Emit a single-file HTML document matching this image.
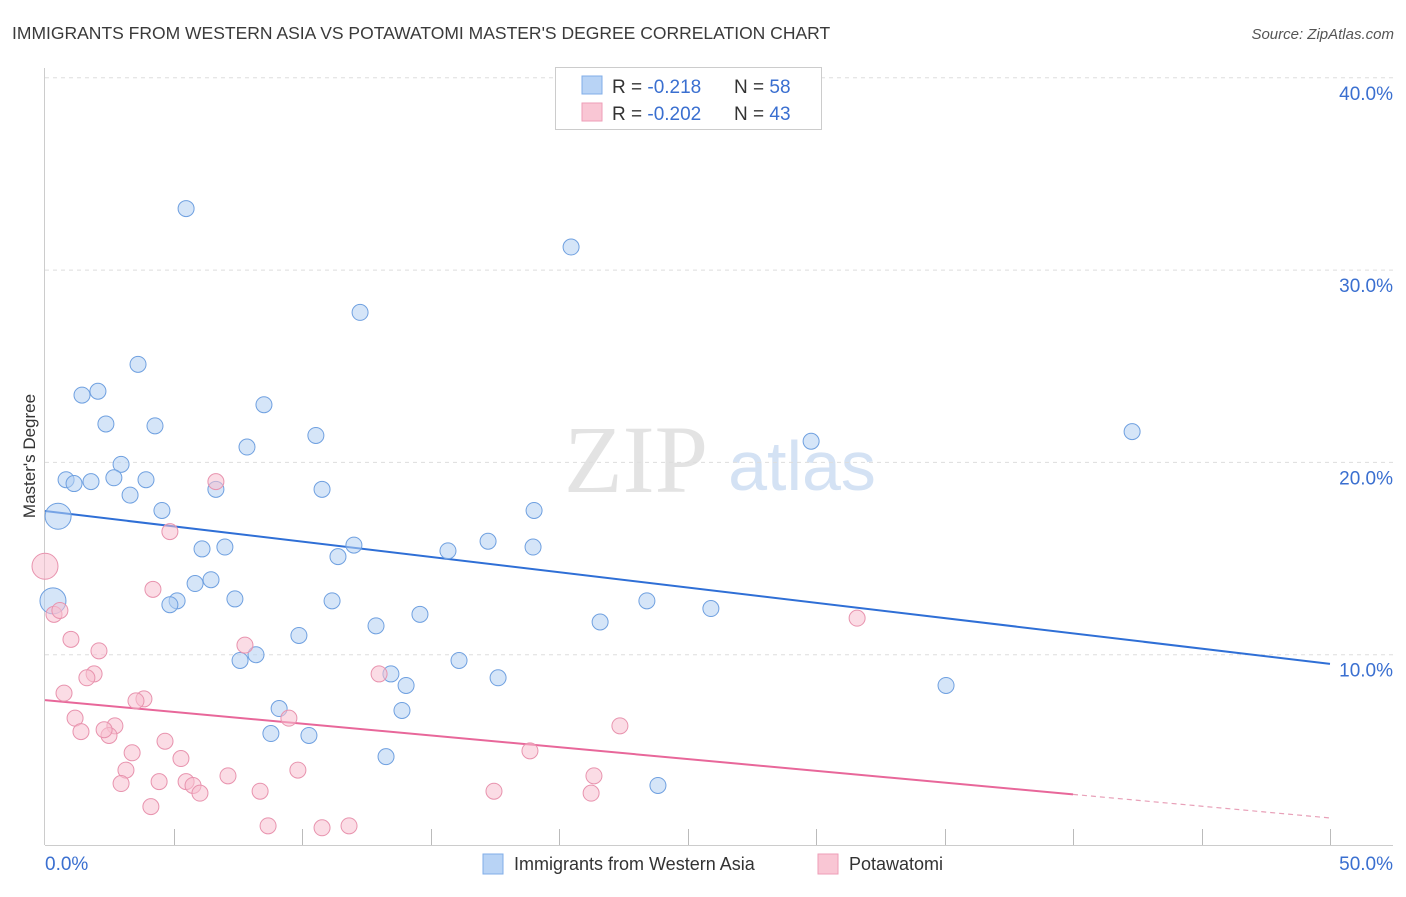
<!DOCTYPE html>
<html><head><meta charset="utf-8"><style>
body{margin:0;background:#fff;font-family:"Liberation Sans",sans-serif;}
svg text{font-family:"Liberation Sans",sans-serif;}
</style></head><body>
<svg id="chart" width="1406" height="892" xmlns="http://www.w3.org/2000/svg">
<text x="12" y="39" font-size="17.5" fill="#3a3a3a">IMMIGRANTS FROM WESTERN ASIA VS POTAWATOMI MASTER'S DEGREE CORRELATION CHART</text>
<text x="1394" y="39" font-size="15" fill="#555" font-style="italic" text-anchor="end">Source: ZipAtlas.com</text>
<g>
<text x="636" y="492" font-size="96" fill="#e3e3e3" text-anchor="middle" font-family="Liberation Serif" style="font-family:'Liberation Serif',serif">ZIP</text>
<text x="802" y="490" font-size="70" fill="#d4e2f4" text-anchor="middle">atlas</text>
</g>
<g id="grid"></g>
<g id="axes"></g>
<g id="trends"></g>
<g id="points"></g>
<text x="35" y="456" font-size="17" fill="#333" text-anchor="middle" transform="rotate(-90 35 456)">Master's Degree</text>
<g>
<rect x="555.5" y="67.5" width="266" height="62" fill="#fff" stroke="#ccc"/>
<rect x="582" y="76" width="20" height="18" fill="#b8d3f5" stroke="#80aee8"/>
<rect x="582" y="103" width="20" height="18" fill="#f9c6d4" stroke="#ee9eb7"/>
<text x="612" y="93" font-size="19" fill="#333">R = <tspan fill="#3a6fd0"> -0.218</tspan></text>
<text x="734" y="93" font-size="19" fill="#333">N = <tspan fill="#3a6fd0">58</tspan></text>
<text x="612" y="120" font-size="19" fill="#333">R = <tspan fill="#3a6fd0">-0.202</tspan></text>
<text x="734" y="120" font-size="19" fill="#333">N = <tspan fill="#3a6fd0">43</tspan></text>
</g>
<g>
<rect x="483" y="854" width="20" height="20" fill="#b8d3f5" stroke="#80aee8"/>
<text x="514" y="870" font-size="18" fill="#333">Immigrants from Western Asia</text>
<rect x="818" y="854" width="20" height="20" fill="#f9c6d4" stroke="#ee9eb7"/>
<text x="849" y="870" font-size="18" fill="#333">Potawatomi</text>
</g>
</svg>
<script>
const blueX=[5.49,20.47,12.26,3.62,1.44,2.06,8.52,2.37,4.28,10.54,7.86,29.81,42.30,2.96,0.82,1.13,1.79,2.68,3.93,6.65,10.78,3.31,4.55,19.03,0.51,6.11,7.00,11.40,12.02,15.68,17.24,18.99,6.46,5.84,5.14,4.86,7.39,11.17,0.31,23.42,25.91,14.59,12.88,21.60,9.88,7.59,8.21,16.11,13.46,14.05,17.63,35.06,9.11,13.89,8.79,10.27,13.27,23.85];
const blueY=[33.2,31.2,27.8,25.1,23.5,23.7,23.0,22.0,21.9,21.4,20.8,21.1,21.6,19.9,19.1,18.9,19.0,19.2,19.1,18.6,18.6,18.3,17.5,17.5,17.2,15.5,15.6,15.1,15.7,15.4,15.9,15.6,13.9,13.7,12.8,12.6,12.9,12.8,12.8,12.8,12.4,12.1,11.5,11.7,11.0,9.7,10.0,9.7,9.0,8.4,8.8,8.4,7.2,7.1,5.9,5.8,4.7,3.2];
const blueLarge=[24,38];
const pinkX=[0,0.35,0.58,6.65,4.86,4.20,1.01,2.10,7.78,0.74,1.91,1.63,13.0,3.85,3.54,1.17,1.40,2.72,2.49,2.30,9.49,4.67,3.39,5.29,3.15,7.12,9.84,18.87,22.37,31.60,4.44,5.49,5.76,6.03,2.96,8.37,21.36,4.12,17.47,21.25,8.68,10.78,11.83];
const pinkY=[14.6,12.1,12.3,19.0,16.4,13.4,10.8,10.2,10.5,8.0,9.0,8.8,9.0,7.7,7.6,6.7,6.0,6.3,5.8,6.1,6.7,5.5,4.9,4.6,4.0,3.7,4.0,5.0,6.3,11.9,3.4,3.4,3.2,2.8,3.3,2.9,3.7,2.1,2.9,2.8,1.1,1.0,1.1];
const pinkLarge=[0];
const blueTrend=[17.47,9.52];
const pinkTrend=[7.64,1.51];
const yTicks=[10,20,30,40];
const xTickLabels=["0.0%","50.0%"];
const NS="http://www.w3.org/2000/svg";
const sx=v=>45+v*25.7;
const sy=v=>847-v*19.23;
function mk(parent,tag,attrs){const e=document.createElementNS(NS,tag);for(const k in attrs)e.setAttribute(k,attrs[k]);document.getElementById(parent).appendChild(e);return e;}
yTicks.forEach(t=>{
 const g=mk('grid','line',{x1:45,x2:1393,y1:sy(t),y2:sy(t),stroke:'#ddd','stroke-dasharray':'4,4'});
 
 
 const l=mk('axes','text',{x:1393,y:sy(t)+22,'font-size':19,fill:'#3a6fd0','text-anchor':'end'});
 l.textContent=t.toFixed(1)+'%';
 
 
});
mk('axes','line',{x1:44.5,x2:44.5,y1:68,y2:845,stroke:'#ccc'});
mk('axes','line',{x1:45,x2:1393,y1:845.5,y2:845.5,stroke:'#ccc'});
for(let i=1;i<=10;i++){const x=Math.round(sx(i*5))+0.5;const t=mk('axes','line',{x1:x,x2:x,y1:829,y2:845,stroke:'#bbb'});}
const xl0=mk('axes','text',{x:45,y:870,'font-size':19,fill:'#3a6fd0'});xl0.textContent=xTickLabels[0];


const xl1=mk('axes','text',{x:1393,y:870,'font-size':19,fill:'#3a6fd0','text-anchor':'end'});xl1.textContent=xTickLabels[1];


function dots(xs,ys,large,fill,stroke,name){
 xs.forEach((x,i)=>{const r=large.includes(i)?13:8;
  const c=mk('points','circle',{cx:sx(x),cy:sy(ys[i]),r:r,fill:fill,'fill-opacity':0.55,stroke:stroke,'stroke-width':1});
  
  });
}
dots(blueX,blueY,blueLarge,'#b3cff3','#6fa0e0','point-western-asia');
dots(pinkX,pinkY,pinkLarge,'#f7bfd0','#e893ae','point-potawatomi');
const bt=mk('trends','line',{x1:sx(0),y1:sy(blueTrend[0]),x2:sx(50),y2:sy(blueTrend[1]),stroke:'#2f6fd6','stroke-width':2});


const pAt=x=>pinkTrend[0]+(pinkTrend[1]-pinkTrend[0])*x/50;
const pt=mk('trends','line',{x1:sx(0),y1:sy(pAt(0)),x2:sx(40),y2:sy(pAt(40)),stroke:'#e8679a','stroke-width':2});


const pd=mk('trends','line',{x1:sx(40),y1:sy(pAt(40)),x2:sx(50),y2:sy(pAt(50)),stroke:'#e8a0b8','stroke-width':1.2,'stroke-dasharray':'5,4'});


</script>
</body></html>
